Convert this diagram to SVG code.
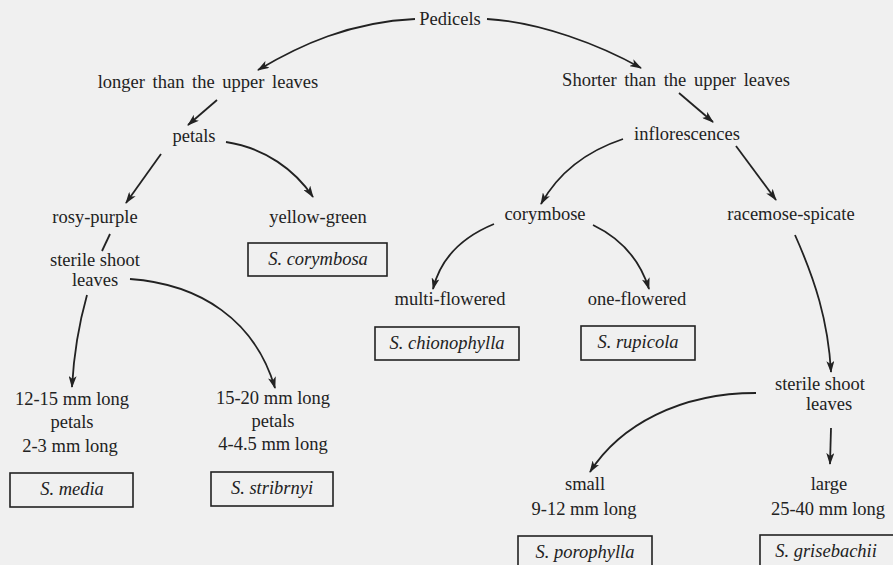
<svg xmlns="http://www.w3.org/2000/svg" width="893" height="565" viewBox="0 0 893 565">
<defs>
<style>
.t{font-family:"Liberation Serif","Times New Roman",serif;font-size:18.5px;fill:#222;text-anchor:middle}
.i{font-style:italic}
.c{fill:none;stroke:#222;stroke-width:1.8}
.b{fill:none;stroke:#222;stroke-width:1.6}
</style>
<marker id="a" viewBox="0 0 12 8" refX="11" refY="4" markerWidth="12" markerHeight="8" markerUnits="userSpaceOnUse" orient="auto">
<path d="M0,0 L12,4 L0,8 L3,4 Z" fill="#222"/>
</marker>
</defs>
<rect width="893" height="565" fill="#f0f0f0"/>
<g id="connectors">
<path class="c" d="M415,19 C350,22 300,45 258,70" marker-end="url(#a)"/>
<path class="c" d="M487,19 C540,22 600,45 641,68" marker-end="url(#a)"/>
<path class="c" d="M217,100 L188,125" marker-end="url(#a)"/>
<path class="c" d="M161,154 L126,203" marker-end="url(#a)"/>
<path class="c" d="M226,142 C265,148 295,170 313,197" marker-end="url(#a)"/>
<path class="c" d="M110,234 L102,251"/>
<path class="c" d="M87,295 C80,320 74,350 72,387" marker-end="url(#a)"/>
<path class="c" d="M130,279 C200,284 255,320 275,388" marker-end="url(#a)"/>
<path class="c" d="M679,93 L713,122" marker-end="url(#a)"/>
<path class="c" d="M623,139 C590,150 560,170 541,204" marker-end="url(#a)"/>
<path class="c" d="M736,146 L776,200" marker-end="url(#a)"/>
<path class="c" d="M494,224 C460,238 440,260 433,289" marker-end="url(#a)"/>
<path class="c" d="M593,225 C620,238 640,260 649,289" marker-end="url(#a)"/>
<path class="c" d="M795,235 C815,280 828,320 831,372" marker-end="url(#a)"/>
<path class="c" d="M756,393 C680,393 620,425 590,472" marker-end="url(#a)"/>
<path class="c" d="M831,428 L830,464" marker-end="url(#a)"/>
</g>
<g id="pedicels"><text class="t" x="450" y="25">Pedicels</text></g>
<g id="longer"><text class="t" x="208" y="88" word-spacing="3">longer than the upper leaves</text></g>
<g id="shorter"><text class="t" x="676" y="86" word-spacing="3">Shorter than the upper leaves</text></g>
<g id="petals"><text class="t" x="194" y="142">petals</text></g>
<g id="inflorescences"><text class="t" x="687" y="140">inflorescences</text></g>
<g id="rosy-purple"><text class="t" x="95" y="223">rosy-purple</text></g>
<g id="yellow-green"><text class="t" x="318" y="223">yellow-green</text></g>
<g id="corymbosa"><rect class="b" x="248" y="243" width="139" height="33"/><text class="t i" x="318" y="265">S. corymbosa</text></g>
<g id="sterile-left"><text class="t" x="95" y="266">sterile shoot</text><text class="t" x="95" y="286">leaves</text></g>
<g id="corymbose"><text class="t" x="545" y="220">corymbose</text></g>
<g id="racemose"><text class="t" x="791" y="220">racemose-spicate</text></g>
<g id="multi"><text class="t" x="450" y="305">multi-flowered</text></g>
<g id="one"><text class="t" x="637" y="305">one-flowered</text></g>
<g id="chionophylla"><rect class="b" x="375" y="327" width="144" height="33"/><text class="t i" x="447" y="349">S. chionophylla</text></g>
<g id="rupicola"><rect class="b" x="581" y="326" width="114" height="34"/><text class="t i" x="638" y="348">S. rupicola</text></g>
<g id="left-12"><text class="t" x="72" y="405">12-15 mm long</text><text class="t" x="72" y="428">petals</text><text class="t" x="70" y="452">2-3 mm long</text></g>
<g id="left-15"><text class="t" x="273" y="404">15-20 mm long</text><text class="t" x="273" y="427">petals</text><text class="t" x="273" y="450">4-4.5 mm long</text></g>
<g id="media"><rect class="b" x="10" y="473" width="123" height="34"/><text class="t i" x="72" y="495">S. media</text></g>
<g id="stribrnyi"><rect class="b" x="211" y="472" width="122" height="34"/><text class="t i" x="272" y="494">S. stribrnyi</text></g>
<g id="sterile-right"><text class="t" x="820" y="390">sterile shoot</text><text class="t" x="829" y="410">leaves</text></g>
<g id="small"><text class="t" x="585" y="490">small</text><text class="t" x="584" y="515">9-12 mm long</text></g>
<g id="large"><text class="t" x="829" y="490">large</text><text class="t" x="828" y="515">25-40 mm long</text></g>
<g id="porophylla"><rect class="b" x="518" y="536" width="134" height="40"/><text class="t i" x="585" y="558">S. porophylla</text></g>
<g id="grisebachii"><rect class="b" x="760" y="535" width="140" height="40"/><text class="t i" x="826" y="557">S. grisebachii</text></g>
</svg>
